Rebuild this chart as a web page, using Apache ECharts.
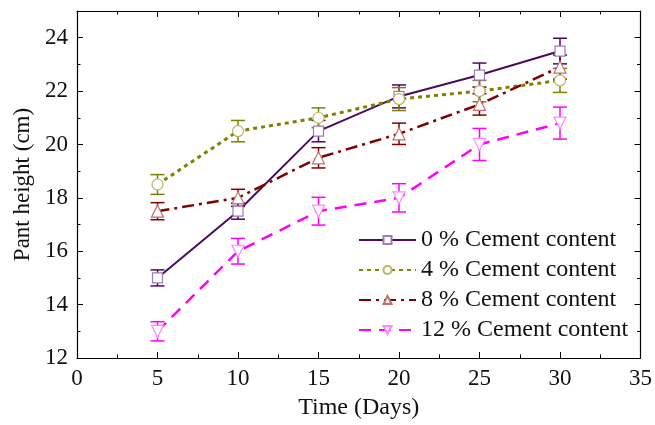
<!DOCTYPE html>
<html>
<head>
<meta charset="utf-8">
<script src="https://cdn.jsdelivr.net/npm/echarts@6/dist/echarts.min.js"></script>
<style>
  html, body { margin: 0; padding: 0; background: #fff; }
  #chart { width: 655px; height: 425px; }
</style>
</head>
<body>
<div id="chart"></div>
<script>
// Plant height over time for four cement contents (mean ± error)
const days = [5, 10, 15, 20, 25, 30];

const names = ['0 % Cement content', '4 % Cement content', '8 % Cement content', '12 % Cement content'];

const height0  = [15.0, 17.5, 20.5, 21.8, 22.6, 23.5];
const height4  = [18.5, 20.5, 21.0, 21.7, 22.0, 22.4];
const height8  = [17.5, 18.0, 19.5, 20.4, 21.5, 22.9];
const height12 = [13.0, 16.0, 17.5, 18.0, 20.0, 20.8];

const err0  = [0.30, 0.30, 0.40, 0.43, 0.45, 0.48];
const err4  = [0.37, 0.40, 0.37, 0.43, 0.40, 0.45];
const err8  = [0.32, 0.32, 0.38, 0.40, 0.40, 0.45];
const err12 = [0.36, 0.48, 0.52, 0.53, 0.60, 0.60];

const xTicks = [0, 5, 10, 15, 20, 25, 30, 35];
const yTicks = [12, 14, 16, 18, 20, 22, 24];

const FONT = '"Liberation Serif", "DejaVu Serif", serif';

const styles = [
  { line: '#4B0A62', mark: '#9C7CB8', type: 'solid', width: 2, symbol: 'rect', size: 10 },
  { line: '#808000', mark: '#B8B868', type: [4, 4], width: 3, symbol: 'circle', size: 11 },
  { line: '#800000', mark: '#C07070', type: [12, 5, 3, 5], width: 2.5, symbol: 'triangle', size: 12 },
  { line: '#FF00FF', mark: '#FF88FF', type: [12, 8], width: 2.5, symbol: 'path://M0,0 L10,0 L5,9 Z', size: 12 }
];

const heights = [height0, height4, height8, height12];
const errors = [err0, err4, err8, err12];

const series = [];

// error bars with caps
heights.forEach((h, k) => {
  const st = styles[k];
  series.push({
    type: 'custom',
    name: names[k] + ' err',
    xAxisIndex: 0, yAxisIndex: 0,
    silent: true,
    z: 3,
    data: days.map((d, i) => [d, h[i] - errors[k][i], h[i] + errors[k][i]]),
    encode: { x: 0, y: [1, 2] },
    renderItem: function (params, api) {
      const lo = api.coord([api.value(0), api.value(1)]);
      const hi = api.coord([api.value(0), api.value(2)]);
      const half = 7;
      const s = { stroke: st.line, lineWidth: 1.5 };
      return {
        type: 'group',
        children: [
          { type: 'line', shape: { x1: lo[0], y1: lo[1], x2: hi[0], y2: hi[1] }, style: s },
          { type: 'line', shape: { x1: lo[0] - half, y1: lo[1], x2: lo[0] + half, y2: lo[1] }, style: s },
          { type: 'line', shape: { x1: hi[0] - half, y1: hi[1], x2: hi[0] + half, y2: hi[1] }, style: s }
        ]
      };
    }
  });
});

// mean lines with hollow markers
heights.forEach((h, k) => {
  const st = styles[k];
  series.push({
    type: 'line',
    name: names[k],
    xAxisIndex: 0, yAxisIndex: 0,
    z: 4,
    data: days.map((d, i) => [d, h[i]]),
    symbol: st.symbol,
    symbolSize: st.size,
    showAllSymbol: true,
    lineStyle: { color: st.line, width: st.width, type: st.type },
    itemStyle: { color: '#ffffff', borderColor: st.mark, borderWidth: 1.2 },
    emphasis: { disabled: true }
  });
});

const axisLine = { show: true, onZero: false, lineStyle: { color: '#000', width: 1.2 } };

const chart = echarts.init(document.getElementById('chart'), null, { renderer: 'canvas' });
chart.setOption({
  animation: false,
  backgroundColor: '#fff',
  grid: { left: 77, right: 11, top: 11, bottom: 65, containLabel: false },
  legend: {
    data: names,
    orient: 'vertical',
    left: 358,
    top: 228,
    itemWidth: 57,
    itemHeight: 10,
    itemGap: 6,
    padding: 0,
    textStyle: { fontFamily: FONT, fontSize: 24, color: '#111', lineHeight: 24 },
    selectedMode: false
  },
  xAxis: [
    {
      type: 'value', min: 0, max: 35, interval: 5, position: 'bottom',
      name: 'Time (Days)', nameLocation: 'middle', nameGap: 38,
      nameTextStyle: { fontFamily: FONT, fontSize: 24, color: '#111' },
      axisLine: axisLine,
      axisTick: { show: true, inside: true, length: 6, lineStyle: { color: '#000' } },
      minorTick: { show: true, splitNumber: 2, length: 3.5, lineStyle: { color: '#000' } },
      axisLabel: { fontFamily: FONT, fontSize: 23, color: '#111', margin: 9,
        formatter: v => xTicks.includes(v) ? String(v) : '' },
      splitLine: { show: false }
    },
    {
      type: 'value', min: 0, max: 35, interval: 5, position: 'top',
      axisLine: axisLine,
      axisTick: { show: true, inside: true, length: 6, lineStyle: { color: '#000' } },
      minorTick: { show: true, splitNumber: 2, length: 3.5, lineStyle: { color: '#000' } },
      axisLabel: { show: false },
      splitLine: { show: false }
    }
  ],
  yAxis: [
    {
      type: 'value', min: 12, max: 25, interval: 2, position: 'left',
      name: 'Pant height (cm)', nameLocation: 'middle', nameGap: 37, nameRotate: 90,
      nameTextStyle: { fontFamily: FONT, fontSize: 23, color: '#111' },
      axisLine: axisLine,
      axisTick: { show: true, inside: true, length: 6, lineStyle: { color: '#000' } },
      minorTick: { show: true, splitNumber: 2, length: 3.5, lineStyle: { color: '#000' } },
      axisLabel: { fontFamily: FONT, fontSize: 23, color: '#111', margin: 9, showMaxLabel: false,
        formatter: v => yTicks.includes(v) ? String(v) : '' },
      splitLine: { show: false }
    },
    {
      type: 'value', min: 12, max: 25, interval: 2, position: 'right',
      axisLine: axisLine,
      axisTick: { show: true, inside: true, length: 6, lineStyle: { color: '#000' } },
      minorTick: { show: true, splitNumber: 2, length: 3.5, lineStyle: { color: '#000' } },
      axisLabel: { show: false },
      splitLine: { show: false }
    }
  ],
  series: series
});
</script>
</body>
</html>
